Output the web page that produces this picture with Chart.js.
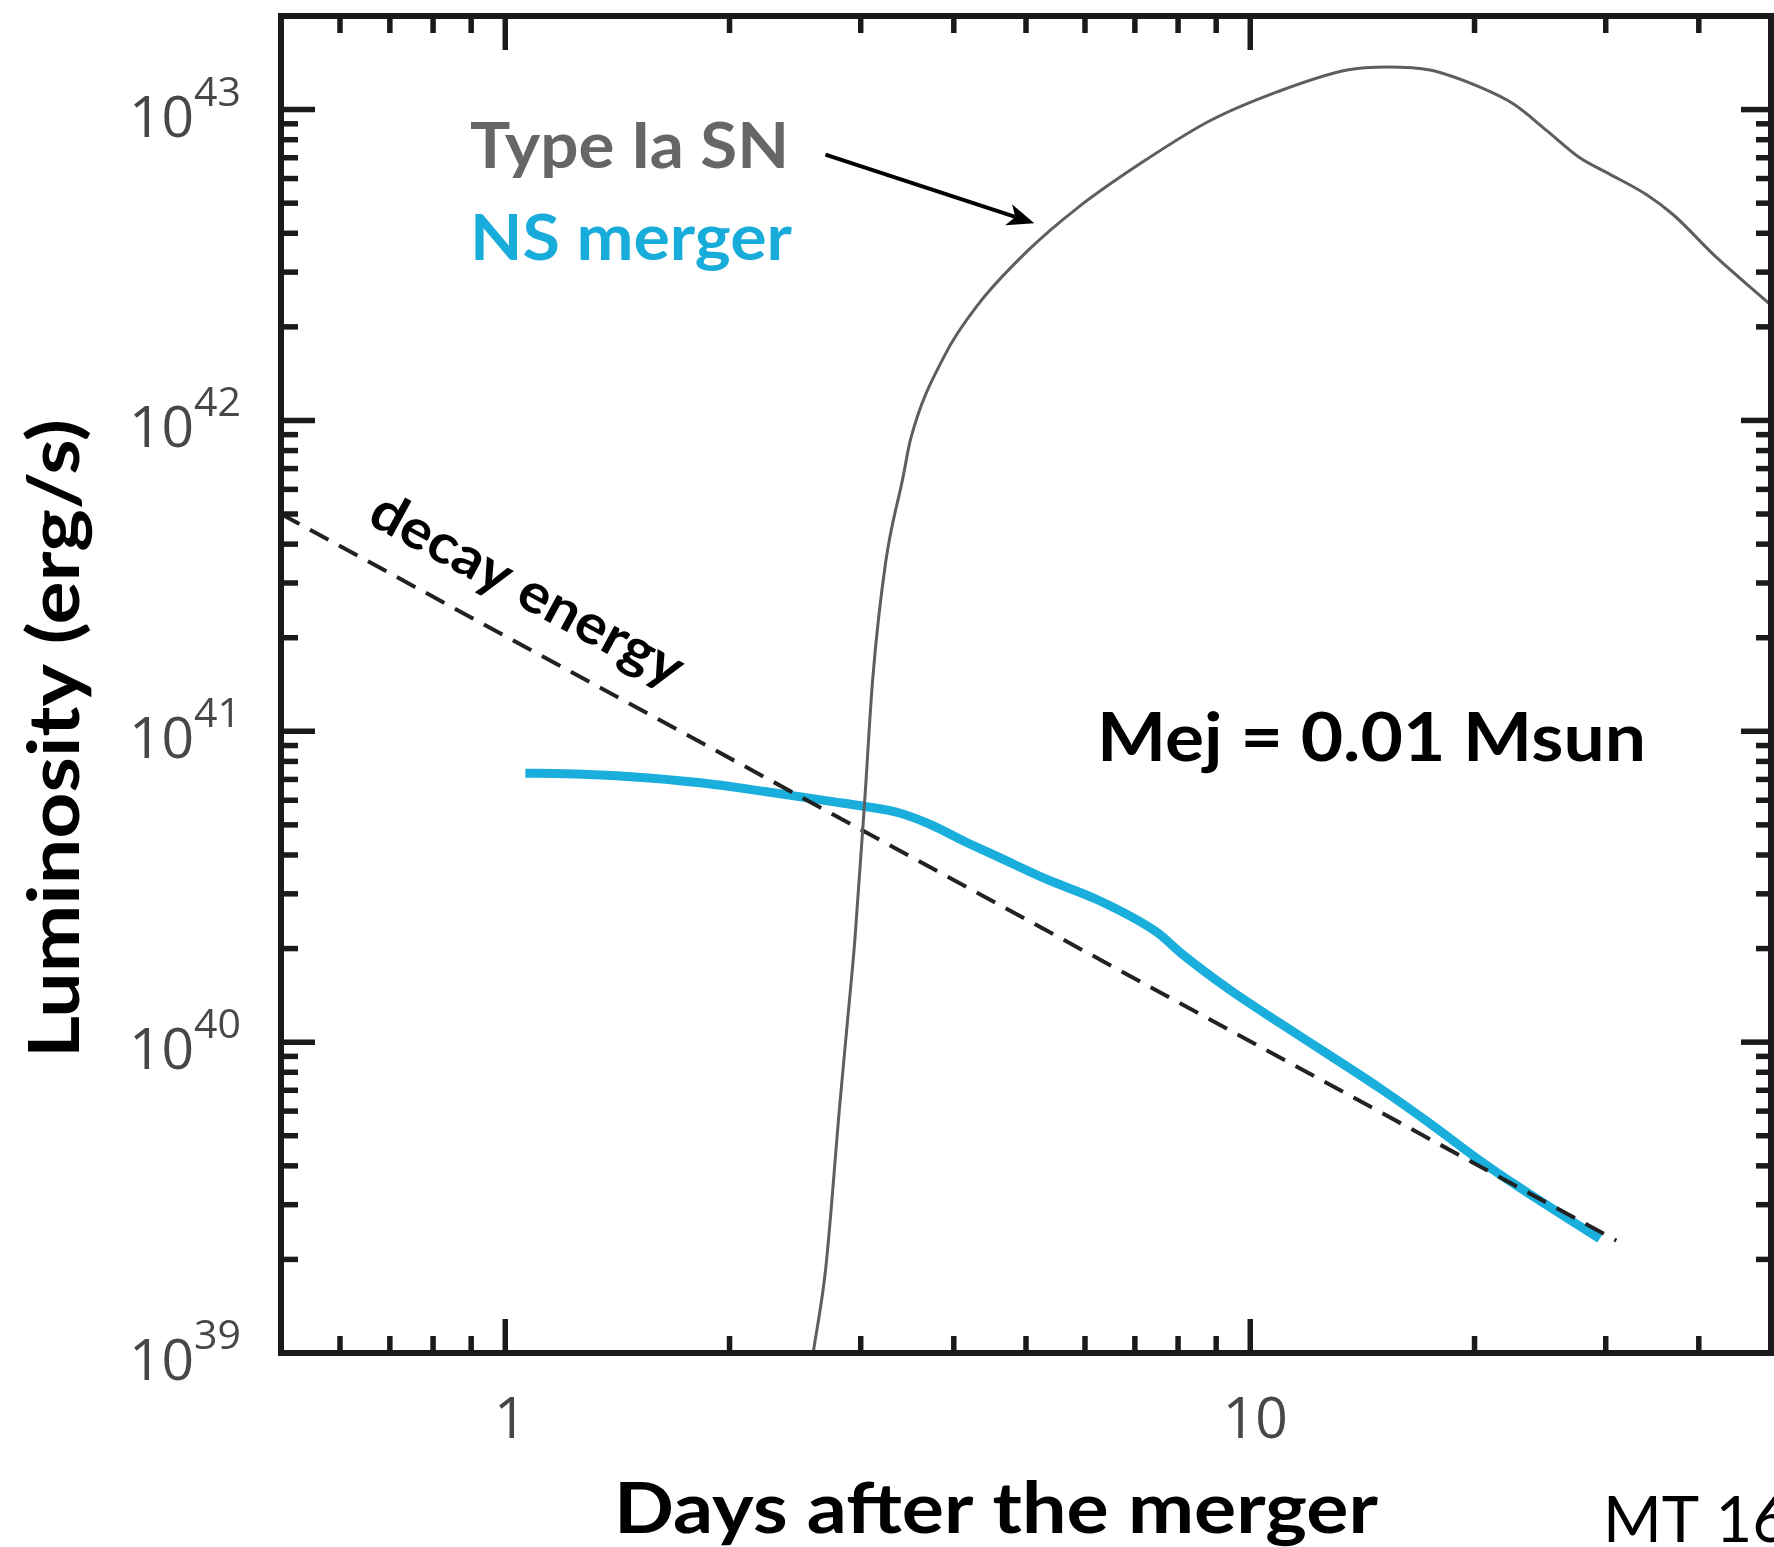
<!DOCTYPE html>
<html>
<head>
<meta charset="utf-8">
<title>Type Ia SN vs NS merger light curves</title>
<script src="https://cdn.jsdelivr.net/npm/chart.js@4.4.1/dist/chart.umd.min.js"></script>
<style>
  html, body { margin: 0; padding: 0; background: #fff; }
  canvas { display: block; }
</style>
</head>
<body>
<canvas id="lcChart" width="1774" height="1547"></canvas>
<script>
// luminosity (erg/s) against days after the merger
const snDays = [2.59, 2.693, 2.81, 2.878, 2.946, 3.038, 3.113, 3.241, 3.416, 3.502, 3.889, 4.306,
  5.024, 5.864, 7.21, 8.84, 10.87, 13.49, 15.26, 17.42, 20.34, 22.59, 25.0, 27.69,
  30.1, 34.05, 37.0, 41.9, 50];
const snLum = [1.0e39, 1.88e39, 6.17e39, 1.15e40, 2.13e40, 6.04e40, 1.47e41, 3.51e41, 6.5e41, 8.75e41,
  1.62e42, 2.35e42, 3.51e42, 4.83e42, 6.84e42, 9.22e42, 1.14e43, 1.34e43, 1.37e43,
  1.34e43, 1.18e43, 1.04e43, 8.56e42, 7.0e42, 6.27e42, 5.32e42, 4.58e42, 3.41e42, 2.35e42];

const nsDays = [1.064, 1.203, 1.475, 1.814, 2.231, 2.735, 3.038, 3.364, 3.724, 4.137, 4.58, 5.345,
  6.237, 7.506, 8.06, 9.40, 10.97, 12.80, 14.94, 17.42, 20.34, 22.80, 29.45];
const nsLum = [7.33e40, 7.30e40, 7.14e40, 6.84e40, 6.40e40, 5.95e40, 5.73e40, 5.48e40, 5.01e40, 4.42e40,
  3.95e40, 3.33e40, 2.87e40, 2.25e40, 1.94e40, 1.47e40, 1.15e40, 9.05e39, 7.10e39, 5.48e39,
  4.16e39, 3.45e39, 2.33e39];

const decayDays = [0.5, 31];
const decayLum = [5.0e41, 2.3e39];

// ticks
const xLabelTicks = [1, 10];
const xMinorTicks = [0.6, 0.7, 0.8, 0.9, 2, 3, 4, 5, 6, 7, 8, 9, 20, 30, 40];
const yLabelTicks = [1e39, 1e40, 1e41, 1e42, 1e43];
const yMinorSteps = [2, 3, 4, 5, 6, 7, 8, 9];

// arrow from the "Type Ia SN" label onto the curve (days, erg/s)
const arrowFrom = [2.69, 7.16e42];
const arrowTo = [5.13, 4.31e42];

const X_MIN = 0.5, X_MAX = 50, Y_MIN = 1e39, Y_MAX = 2e43;

function toPoints(xs, ys) {
  return xs.map((x, i) => ({ x: x, y: ys[i] }));
}

// draws text squeezed/stretched to a given width, left edge at x
function fitText(ctx, text, x, y, width, font) {
  ctx.save();
  ctx.font = font;
  ctx.textAlign = 'left';
  const w = ctx.measureText(text).width;
  ctx.translate(x, y);
  ctx.scale(width / w, 1);
  ctx.fillText(text, 0, 0);
  ctx.restore();
}

function line(ctx, x1, y1, x2, y2) {
  ctx.beginPath();
  ctx.moveTo(x1, y1);
  ctx.lineTo(x2, y2);
  ctx.stroke();
}

const framePlugin = {
  id: 'frame',
  afterDatasetsDraw(chart) {
    const ctx = chart.ctx;
    const a = chart.chartArea;
    const xs = chart.scales.x, ys = chart.scales.y;

    ctx.save();
    ctx.strokeStyle = '#1a1a1a';
    ctx.lineCap = 'butt';

    // inward ticks on all four sides
    ctx.lineWidth = 5.5;
    xLabelTicks.forEach(v => {
      const px = xs.getPixelForValue(v);
      line(ctx, px, a.bottom, px, a.bottom - 34);
      line(ctx, px, a.top, px, a.top + 34);
    });
    xMinorTicks.forEach(v => {
      const px = xs.getPixelForValue(v);
      line(ctx, px, a.bottom, px, a.bottom - 17);
      line(ctx, px, a.top, px, a.top + 17);
    });
    yLabelTicks.forEach(dec => {
      const py = ys.getPixelForValue(dec);
      line(ctx, a.left, py, a.left + 34, py);
      line(ctx, a.right, py, a.right - 30, py);
      yMinorSteps.forEach(s => {
        const v = dec * s;
        if (v > Y_MAX) return;
        const pm = ys.getPixelForValue(v);
        line(ctx, a.left, pm, a.left + 17, pm);
        line(ctx, a.right, pm, a.right - 15, pm);
      });
    });

    // box
    ctx.lineWidth = 6;
    ctx.strokeRect(a.left, a.top, a.right - a.left, a.bottom - a.top);

    // tick labels
    ctx.fillStyle = '#474747';
    ctx.textBaseline = 'alphabetic';
    ctx.textAlign = 'right';
    yLabelTicks.forEach(v => {
      const py = ys.getPixelForValue(v);
      const exp = String(Math.round(Math.log10(v)));
      ctx.font = '400 41px "Open Sans", sans-serif';
      const ew = ctx.measureText(exp).width;
      ctx.fillText(exp, a.left - 40, py - 4);
      ctx.font = '400 57px "Open Sans", sans-serif';
      ctx.fillText('10', a.left - 40 - ew, py + 27);
    });
    ctx.textAlign = 'center';
    ctx.font = '400 57px "Open Sans", sans-serif';
    xLabelTicks.forEach(v => {
      ctx.fillText(String(v), xs.getPixelForValue(v) + 5, a.bottom + 85);
    });

    // axis titles
    ctx.fillStyle = '#000';
    fitText(ctx, 'Days after the merger', 614, 1533, 764, 'bold 71px Lato, sans-serif');
    ctx.save();
    ctx.translate(79, 738);
    ctx.rotate(-Math.PI / 2);
    fitText(ctx, 'Luminosity (erg/s)', -320, 0, 639, 'bold 71px Lato, sans-serif');
    ctx.restore();
    fitText(ctx, 'MT 16', 1603, 1542, 186, '400 63px Lato, sans-serif');

    // annotations
    ctx.fillStyle = '#666666';
    fitText(ctx, 'Type Ia SN', 470, 168, 319, 'bold 64px Lato, sans-serif');
    ctx.fillStyle = '#17acd9';
    fitText(ctx, 'NS merger', 470, 260, 322, 'bold 64px Lato, sans-serif');
    ctx.fillStyle = '#000';
    fitText(ctx, 'Mej = 0.01 Msun', 1097, 761, 549, 'bold 66px Lato, sans-serif');

    // label along the decay line, same slope as the line
    const d0x = xs.getPixelForValue(decayDays[0]), d0y = ys.getPixelForValue(decayLum[0]);
    const d1x = xs.getPixelForValue(decayDays[1]), d1y = ys.getPixelForValue(decayLum[1]);
    const ang = Math.atan2(d1y - d0y, d1x - d0x);
    ctx.save();
    ctx.translate(527, 590);
    ctx.rotate(ang);
    ctx.textBaseline = 'middle';
    fitText(ctx, 'decay energy', -174, 0, 348, 'bold 55px Lato, sans-serif');
    ctx.restore();

    // arrow
    const ax1 = xs.getPixelForValue(arrowFrom[0]), ay1 = ys.getPixelForValue(arrowFrom[1]);
    const ax2 = xs.getPixelForValue(arrowTo[0]), ay2 = ys.getPixelForValue(arrowTo[1]);
    const t = Math.atan2(ay2 - ay1, ax2 - ax1);
    const c = Math.cos(t), s = Math.sin(t);
    const head = 27, half = 11, notch = 7;
    ctx.strokeStyle = '#000';
    ctx.fillStyle = '#000';
    ctx.lineWidth = 4;
    line(ctx, ax1, ay1, ax2 - (head - notch) * c, ay2 - (head - notch) * s);
    const bx = ax2 - head * c, by = ay2 - head * s;
    ctx.beginPath();
    ctx.moveTo(ax2, ay2);
    ctx.lineTo(bx - half * s, by + half * c);
    ctx.lineTo(ax2 - (head - notch) * c, ay2 - (head - notch) * s);
    ctx.lineTo(bx + half * s, by - half * c);
    ctx.closePath();
    ctx.fill();

    ctx.restore();
  }
};

const ctx = document.getElementById('lcChart').getContext('2d');
const lcChart = new Chart(ctx, {
  type: 'scatter',
  data: {
    datasets: [
      {
        label: 'Type Ia SN',
        data: toPoints(snDays, snLum),
        showLine: true,
        borderColor: '#5e5e5e',
        borderWidth: 3,
        pointRadius: 0,
        cubicInterpolationMode: 'monotone'
      },
      {
        label: 'decay energy',
        data: toPoints(decayDays, decayLum),
        showLine: true,
        borderColor: '#222222',
        borderWidth: 4,
        borderDash: [21, 12],
        pointRadius: 0
      },
      {
        label: 'NS merger',
        data: toPoints(nsDays, nsLum),
        showLine: true,
        borderColor: '#1aaedc',
        borderWidth: 9,
        pointRadius: 0,
        cubicInterpolationMode: 'monotone'
      }
    ]
  },
  options: {
    responsive: false,
    animation: false,
    devicePixelRatio: 1,
    layout: { padding: { left: 281, top: 16, right: 3, bottom: 194 } },
    plugins: {
      legend: { display: false },
      tooltip: { enabled: false }
    },
    scales: {
      x: { type: 'logarithmic', min: X_MIN, max: X_MAX, display: false },
      y: { type: 'logarithmic', min: Y_MIN, max: Y_MAX, display: false }
    }
  },
  plugins: [framePlugin]
});
</script>
</body>
</html>
